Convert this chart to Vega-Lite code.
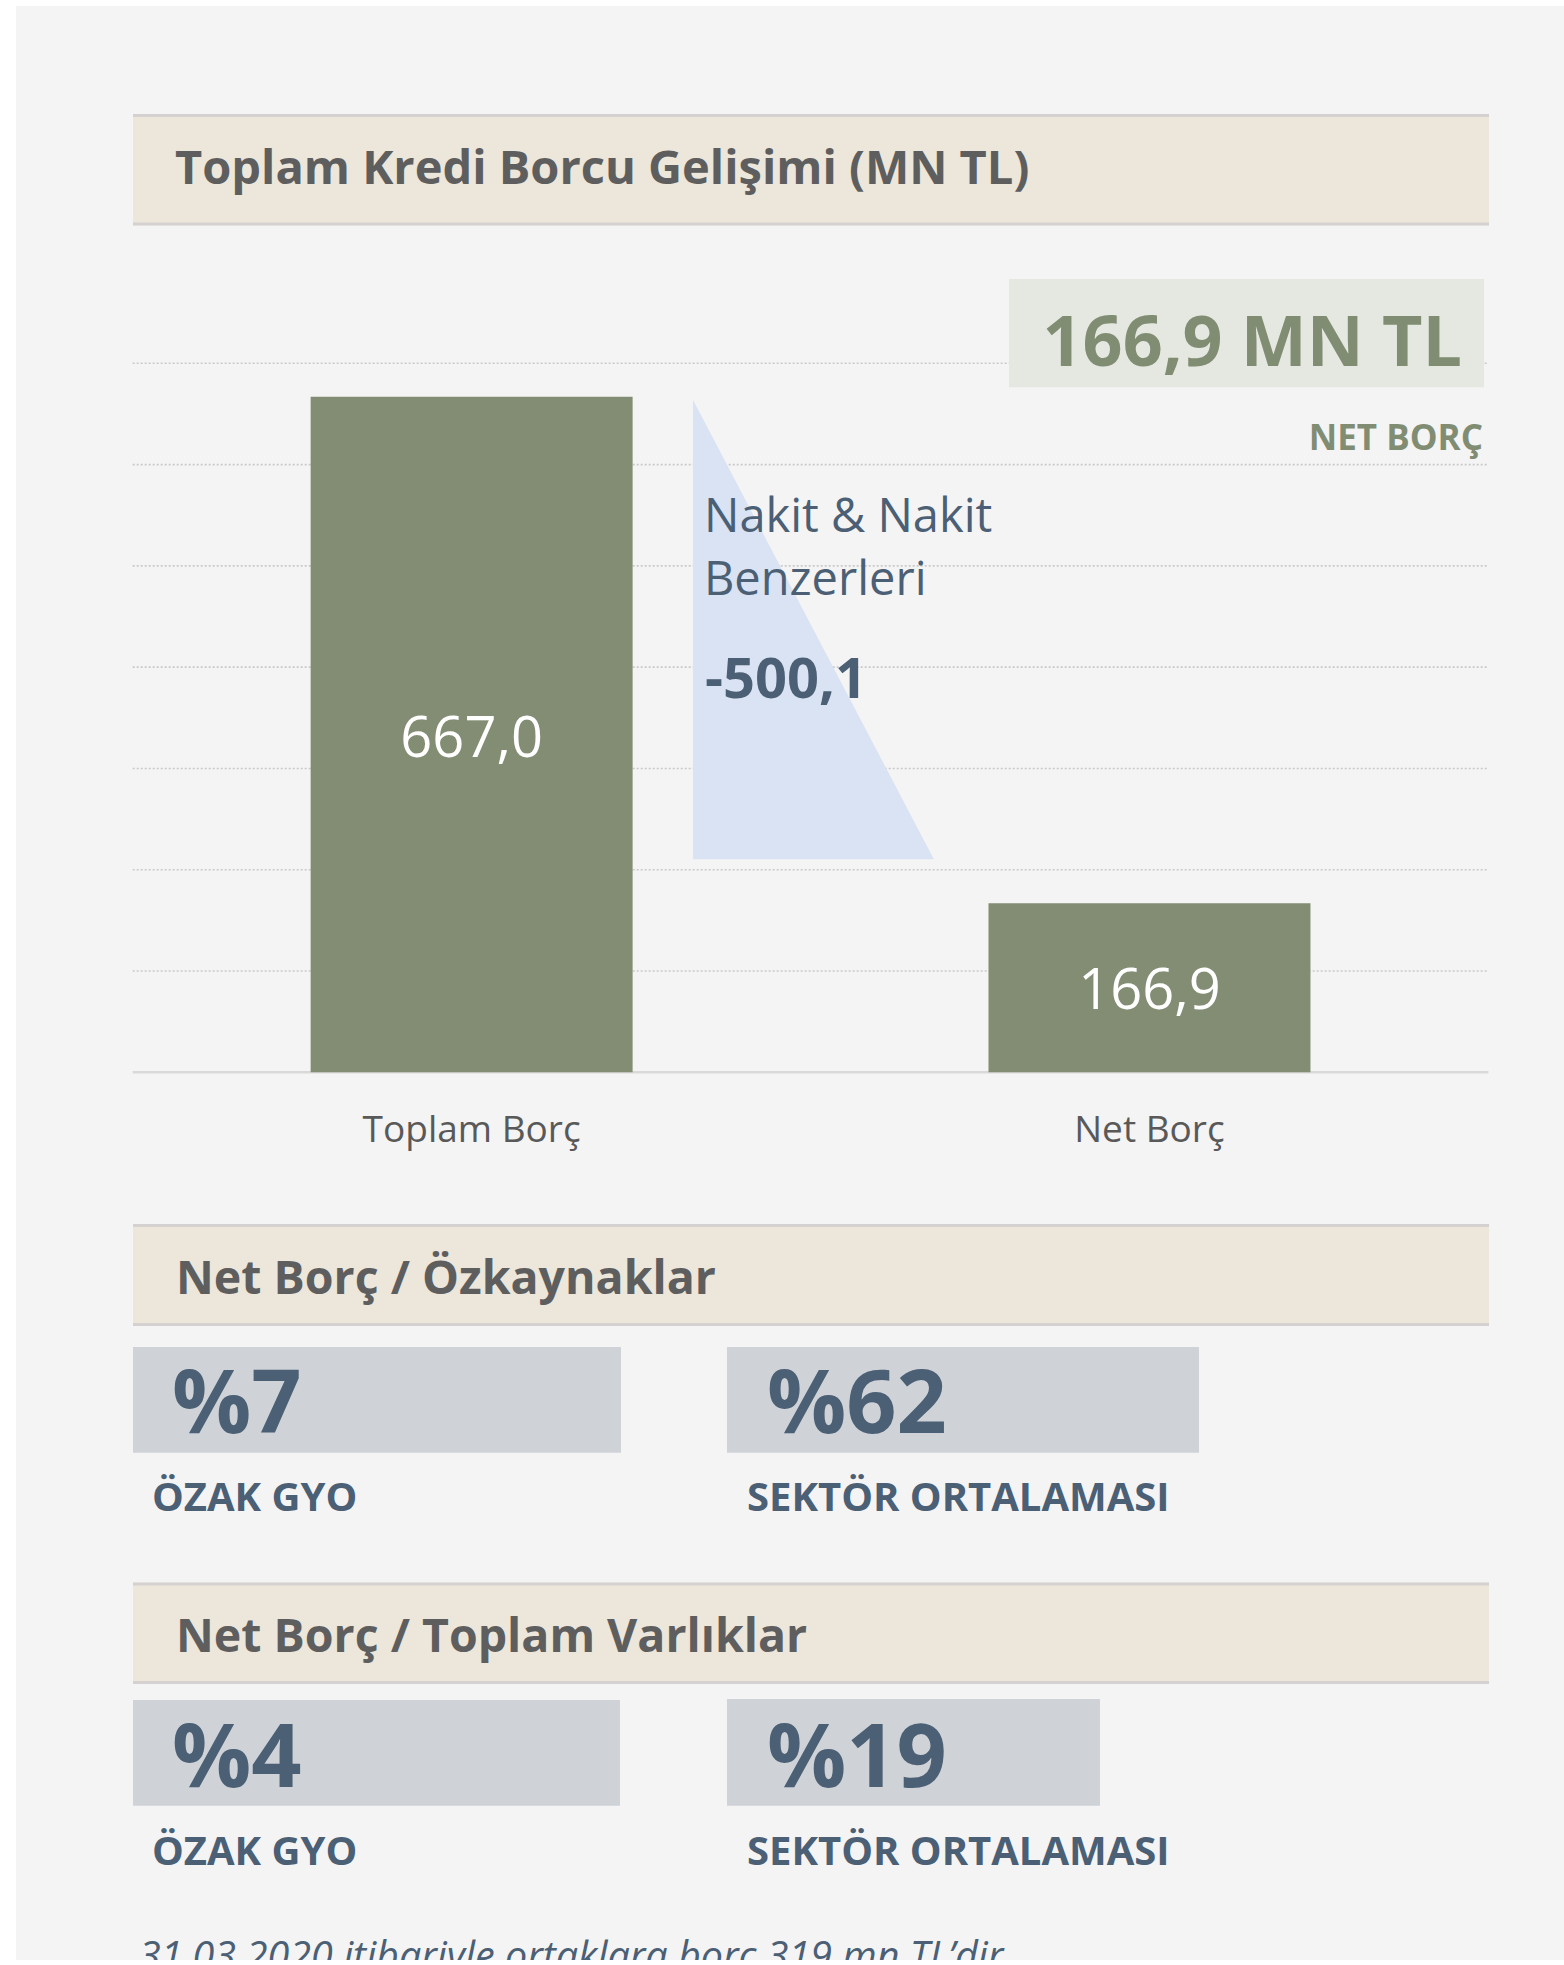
{
  "$schema": "https://vega.github.io/schema/vega-lite/v6.json",
  "width": 1564,
  "height": 1965,
  "autosize": {"type": "none"},
  "padding": 0,
  "background": "#ffffff",
  "config": {
    "view": {"stroke": null},
    "axis": {"disable": true},
    "font": "Open Sans",
    "locale": {"number": {"decimal": ",", "thousands": ".", "grouping": [3], "currency": ["", ""]}}
  },
  "datasets": {
    "borc": [
      {"kalem": "Toplam Borç", "deger": 667.0},
      {"kalem": "Net Borç", "deger": 166.9}
    ],
    "nakit": [
      {"adim": 1.653, "ust": 664, "alt": 210.3},
      {"adim": 2.364, "ust": 210.3, "alt": 210.3}
    ],
    "izgara": [
      {"deger": 100}, {"deger": 200}, {"deger": 300}, {"deger": 400},
      {"deger": 500}, {"deger": 600}, {"deger": 700}
    ],
    "oranlar": [
      {"oran": "Net Borç / Özkaynaklar", "taraf": "ÖZAK GYO", "deger": 7, "etiket": "%7"},
      {"oran": "Net Borç / Özkaynaklar", "taraf": "SEKTÖR ORTALAMASI", "deger": 62, "etiket": "%62"},
      {"oran": "Net Borç / Toplam Varlıklar", "taraf": "ÖZAK GYO", "deger": 4, "etiket": "%4"},
      {"oran": "Net Borç / Toplam Varlıklar", "taraf": "SEKTÖR ORTALAMASI", "deger": 19, "etiket": "%19"}
    ]
  },
  "layer": [
    {
      "data": {"values": [{}]},
      "layer": [
        {"mark": {"type": "rect", "fill": "#f4f4f4"}, "encoding": {"x": {"datum": 16, "type": "quantitative", "scale": {"domain": [0, 1564], "range": [0, 1564], "nice": false, "zero": false}}, "x2": {"datum": 1564}, "y": {"datum": 6, "type": "quantitative", "scale": {"domain": [0, 1965], "range": [0, 1965], "nice": false, "zero": false}}, "y2": {"datum": 1960}}},
        {"mark": {"type": "rect", "fill": "#ece6db"}, "encoding": {"x": {"datum": 133, "type": "quantitative", "scale": {"domain": [0, 1564], "range": [0, 1564], "nice": false, "zero": false}}, "x2": {"datum": 1489}, "y": {"datum": 114, "type": "quantitative", "scale": {"domain": [0, 1965], "range": [0, 1965], "nice": false, "zero": false}}, "y2": {"datum": 225.5}}},
        {"mark": {"type": "rect", "fill": "#d6d1d1"}, "encoding": {"x": {"datum": 133, "type": "quantitative", "scale": {"domain": [0, 1564], "range": [0, 1564], "nice": false, "zero": false}}, "x2": {"datum": 1489}, "y": {"datum": 114, "type": "quantitative", "scale": {"domain": [0, 1965], "range": [0, 1965], "nice": false, "zero": false}}, "y2": {"datum": 117}}},
        {"mark": {"type": "rect", "fill": "#d6d1d1"}, "encoding": {"x": {"datum": 133, "type": "quantitative", "scale": {"domain": [0, 1564], "range": [0, 1564], "nice": false, "zero": false}}, "x2": {"datum": 1489}, "y": {"datum": 222.5, "type": "quantitative", "scale": {"domain": [0, 1965], "range": [0, 1965], "nice": false, "zero": false}}, "y2": {"datum": 225.5}}},
        {"mark": {"type": "rect", "fill": "#ece6db"}, "encoding": {"x": {"datum": 133, "type": "quantitative", "scale": {"domain": [0, 1564], "range": [0, 1564], "nice": false, "zero": false}}, "x2": {"datum": 1489}, "y": {"datum": 1224, "type": "quantitative", "scale": {"domain": [0, 1965], "range": [0, 1965], "nice": false, "zero": false}}, "y2": {"datum": 1326}}},
        {"mark": {"type": "rect", "fill": "#d6d1d1"}, "encoding": {"x": {"datum": 133, "type": "quantitative", "scale": {"domain": [0, 1564], "range": [0, 1564], "nice": false, "zero": false}}, "x2": {"datum": 1489}, "y": {"datum": 1224, "type": "quantitative", "scale": {"domain": [0, 1965], "range": [0, 1965], "nice": false, "zero": false}}, "y2": {"datum": 1227}}},
        {"mark": {"type": "rect", "fill": "#d6d1d1"}, "encoding": {"x": {"datum": 133, "type": "quantitative", "scale": {"domain": [0, 1564], "range": [0, 1564], "nice": false, "zero": false}}, "x2": {"datum": 1489}, "y": {"datum": 1323, "type": "quantitative", "scale": {"domain": [0, 1965], "range": [0, 1965], "nice": false, "zero": false}}, "y2": {"datum": 1326}}},
        {"mark": {"type": "rect", "fill": "#ece6db"}, "encoding": {"x": {"datum": 133, "type": "quantitative", "scale": {"domain": [0, 1564], "range": [0, 1564], "nice": false, "zero": false}}, "x2": {"datum": 1489}, "y": {"datum": 1582.5, "type": "quantitative", "scale": {"domain": [0, 1965], "range": [0, 1965], "nice": false, "zero": false}}, "y2": {"datum": 1684}}},
        {"mark": {"type": "rect", "fill": "#d6d1d1"}, "encoding": {"x": {"datum": 133, "type": "quantitative", "scale": {"domain": [0, 1564], "range": [0, 1564], "nice": false, "zero": false}}, "x2": {"datum": 1489}, "y": {"datum": 1582.5, "type": "quantitative", "scale": {"domain": [0, 1965], "range": [0, 1965], "nice": false, "zero": false}}, "y2": {"datum": 1585.5}}},
        {"mark": {"type": "rect", "fill": "#d6d1d1"}, "encoding": {"x": {"datum": 133, "type": "quantitative", "scale": {"domain": [0, 1564], "range": [0, 1564], "nice": false, "zero": false}}, "x2": {"datum": 1489}, "y": {"datum": 1681, "type": "quantitative", "scale": {"domain": [0, 1965], "range": [0, 1965], "nice": false, "zero": false}}, "y2": {"datum": 1684}}},
        {"mark": {"type": "rect", "fill": "#cfd3d8"}, "encoding": {"x": {"datum": 133, "type": "quantitative", "scale": {"domain": [0, 1564], "range": [0, 1564], "nice": false, "zero": false}}, "x2": {"datum": 621}, "y": {"datum": 1347, "type": "quantitative", "scale": {"domain": [0, 1965], "range": [0, 1965], "nice": false, "zero": false}}, "y2": {"datum": 1452.7}}},
        {"mark": {"type": "rect", "fill": "#cfd3d8"}, "encoding": {"x": {"datum": 727, "type": "quantitative", "scale": {"domain": [0, 1564], "range": [0, 1564], "nice": false, "zero": false}}, "x2": {"datum": 1199}, "y": {"datum": 1347, "type": "quantitative", "scale": {"domain": [0, 1965], "range": [0, 1965], "nice": false, "zero": false}}, "y2": {"datum": 1452.7}}},
        {"mark": {"type": "rect", "fill": "#cfd3d8"}, "encoding": {"x": {"datum": 133, "type": "quantitative", "scale": {"domain": [0, 1564], "range": [0, 1564], "nice": false, "zero": false}}, "x2": {"datum": 620}, "y": {"datum": 1700, "type": "quantitative", "scale": {"domain": [0, 1965], "range": [0, 1965], "nice": false, "zero": false}}, "y2": {"datum": 1805.7}}},
        {"mark": {"type": "rect", "fill": "#cfd3d8"}, "encoding": {"x": {"datum": 727, "type": "quantitative", "scale": {"domain": [0, 1564], "range": [0, 1564], "nice": false, "zero": false}}, "x2": {"datum": 1100}, "y": {"datum": 1699, "type": "quantitative", "scale": {"domain": [0, 1965], "range": [0, 1965], "nice": false, "zero": false}}, "y2": {"datum": 1805.7}}}
      ]
    },
    {
      "layer": [
        {
          "data": {"name": "izgara"},
          "mark": {"type": "rule", "stroke": "#c9c9c9", "strokeWidth": 1.6, "strokeDash": [2, 2]},
          "encoding": {
            "x": {"datum": 0, "type": "quantitative", "scale": {"domain": [0, 4], "range": [132.7, 1488.4], "nice": false, "zero": false}},
            "x2": {"datum": 4},
            "y": {"field": "deger", "type": "quantitative", "scale": {"domain": [0, 700], "range": [1072.3, 363.3], "nice": false, "zero": false}}
          }
        },
        {
          "data": {"values": [{}]},
          "mark": {"type": "rule", "stroke": "#d9d9d9", "strokeWidth": 2.5},
          "encoding": {
            "x": {"datum": 0, "type": "quantitative", "scale": {"domain": [0, 4], "range": [132.7, 1488.4], "nice": false, "zero": false}},
            "x2": {"datum": 4},
            "y": {"datum": 0, "type": "quantitative", "scale": {"domain": [0, 700], "range": [1072.3, 363.3], "nice": false, "zero": false}}
          }
        },
        {
          "data": {"name": "nakit"},
          "mark": {"type": "area", "fill": "#dae3f3", "opacity": 1},
          "encoding": {
            "x": {"field": "adim", "type": "quantitative", "scale": {"domain": [0, 4], "range": [132.7, 1488.4], "nice": false, "zero": false}},
            "y": {"field": "ust", "type": "quantitative", "scale": {"domain": [0, 700], "range": [1072.3, 363.3], "nice": false, "zero": false}},
            "y2": {"field": "alt"}
          }
        }
      ]
    },
    {
      "data": {"values": [{}]},
      "mark": {"type": "rect", "fill": "#e5e7e1"},
      "encoding": {"x": {"datum": 1009, "type": "quantitative", "scale": {"domain": [0, 1564], "range": [0, 1564], "nice": false, "zero": false}}, "x2": {"datum": 1484}, "y": {"datum": 279, "type": "quantitative", "scale": {"domain": [0, 1965], "range": [0, 1965], "nice": false, "zero": false}}, "y2": {"datum": 387.3}}
    },
    {
      "data": {"name": "borc"},
      "encoding": {
        "x": {"field": "kalem", "type": "nominal", "sort": null, "scale": {"type": "band", "domain": ["Toplam Borç", "Net Borç"], "range": [132.7, 1488.4], "paddingInner": 0.525, "paddingOuter": 0.2625}}
      },
      "layer": [
        {
          "mark": {"type": "bar", "fill": "#828d74"},
          "encoding": {"y": {"field": "deger", "type": "quantitative", "scale": {"domain": [0, 700], "range": [1072.3, 363.3], "nice": false, "zero": true}}}
        },
        {
          "transform": [{"filter": "datum.kalem === 'Toplam Borç'"}],
          "mark": {"type": "text", "fill": "#ffffff", "fontSize": 56, "font": "Open Sans", "align": "center", "baseline": "alphabetic", "dy": 360},
          "encoding": {
            "y": {"field": "deger", "type": "quantitative", "scale": {"domain": [0, 700], "range": [1072.3, 363.3], "nice": false, "zero": true}},
            "text": {"field": "deger", "type": "quantitative", "format": ".1f"}
          }
        },
        {
          "transform": [{"filter": "datum.kalem === 'Net Borç'"}],
          "mark": {"type": "text", "fill": "#ffffff", "fontSize": 56, "font": "Open Sans", "align": "center", "baseline": "alphabetic", "dy": 106},
          "encoding": {
            "y": {"field": "deger", "type": "quantitative", "scale": {"domain": [0, 700], "range": [1072.3, 363.3], "nice": false, "zero": true}},
            "text": {"field": "deger", "type": "quantitative", "format": ".1f"}
          }
        },
        {
          "mark": {"type": "text", "fill": "#595959", "fontSize": 37, "font": "Open Sans", "align": "center", "baseline": "alphabetic", "dy": 69.4},
          "encoding": {
            "y": {"datum": 0, "type": "quantitative", "scale": {"domain": [0, 700], "range": [1072.3, 363.3], "nice": false, "zero": true}},
            "text": {"field": "kalem", "type": "nominal"}
          }
        }
      ]
    },
    {
      "data": {"name": "oranlar"},
      "encoding": {
        "x": {"field": "taraf", "type": "nominal", "sort": null, "scale": {"type": "point", "domain": ["ÖZAK GYO", "SEKTÖR ORTALAMASI"], "range": [172, 767], "padding": 0}},
        "y": {"field": "oran", "type": "nominal", "sort": null, "scale": {"type": "point", "domain": ["Net Borç / Özkaynaklar", "Net Borç / Toplam Varlıklar"], "range": [1433, 1787.3], "padding": 0}}
      },
      "layer": [
        {
          "mark": {"type": "text", "fill": "#4b5f75", "fontSize": 88, "fontWeight": "bold", "font": "Open Sans", "align": "left", "baseline": "alphabetic"},
          "encoding": {"text": {"field": "etiket", "type": "nominal"}}
        },
        {
          "mark": {"type": "text", "fill": "#4b5f75", "fontSize": 40, "fontWeight": "bold", "font": "Open Sans", "align": "left", "baseline": "alphabetic", "dx": -20, "dy": 78},
          "encoding": {"text": {"field": "taraf", "type": "nominal"}}
        }
      ]
    },
    {
      "data": {"values": [{}]},
      "layer": [
        {"mark": {"type": "text", "text": "Toplam Kredi Borcu Gelişimi (MN TL)", "fill": "#5e5e5e", "fontSize": 47, "fontWeight": "bold", "font": "Open Sans", "align": "left", "baseline": "alphabetic"}, "encoding": {"x": {"datum": 175, "type": "quantitative", "scale": {"domain": [0, 1564], "range": [0, 1564], "nice": false, "zero": false}}, "y": {"datum": 184.3, "type": "quantitative", "scale": {"domain": [0, 1965], "range": [0, 1965], "nice": false, "zero": false}}}},
        {"mark": {"type": "text", "text": "Net Borç / Özkaynaklar", "fill": "#5e5e5e", "fontSize": 46.5, "fontWeight": "bold", "font": "Open Sans", "align": "left", "baseline": "alphabetic"}, "encoding": {"x": {"datum": 176, "type": "quantitative", "scale": {"domain": [0, 1564], "range": [0, 1564], "nice": false, "zero": false}}, "y": {"datum": 1294.3, "type": "quantitative", "scale": {"domain": [0, 1965], "range": [0, 1965], "nice": false, "zero": false}}}},
        {"mark": {"type": "text", "text": "Net Borç / Toplam Varlıklar", "fill": "#5e5e5e", "fontSize": 46.5, "fontWeight": "bold", "font": "Open Sans", "align": "left", "baseline": "alphabetic"}, "encoding": {"x": {"datum": 176, "type": "quantitative", "scale": {"domain": [0, 1564], "range": [0, 1564], "nice": false, "zero": false}}, "y": {"datum": 1651.7, "type": "quantitative", "scale": {"domain": [0, 1965], "range": [0, 1965], "nice": false, "zero": false}}}},
        {"mark": {"type": "text", "text": "166,9 MN TL", "fill": "#818d72", "fontSize": 70, "fontWeight": "bold", "font": "Open Sans", "align": "right", "baseline": "alphabetic"}, "encoding": {"x": {"datum": 1462, "type": "quantitative", "scale": {"domain": [0, 1564], "range": [0, 1564], "nice": false, "zero": false}}, "y": {"datum": 365.7, "type": "quantitative", "scale": {"domain": [0, 1965], "range": [0, 1965], "nice": false, "zero": false}}}},
        {"mark": {"type": "text", "text": "NET BORÇ", "fill": "#818d72", "fontSize": 35, "fontWeight": "bold", "font": "Open Sans", "align": "right", "baseline": "alphabetic"}, "encoding": {"x": {"datum": 1483, "type": "quantitative", "scale": {"domain": [0, 1564], "range": [0, 1564], "nice": false, "zero": false}}, "y": {"datum": 450, "type": "quantitative", "scale": {"domain": [0, 1965], "range": [0, 1965], "nice": false, "zero": false}}}},
        {"mark": {"type": "text", "text": "Nakit & Nakit", "fill": "#4b5f75", "fontSize": 47, "font": "Open Sans", "align": "left", "baseline": "alphabetic"}, "encoding": {"x": {"datum": 704, "type": "quantitative", "scale": {"domain": [0, 1564], "range": [0, 1564], "nice": false, "zero": false}}, "y": {"datum": 531.7, "type": "quantitative", "scale": {"domain": [0, 1965], "range": [0, 1965], "nice": false, "zero": false}}}},
        {"mark": {"type": "text", "text": "Benzerleri", "fill": "#4b5f75", "fontSize": 47, "font": "Open Sans", "align": "left", "baseline": "alphabetic"}, "encoding": {"x": {"datum": 704, "type": "quantitative", "scale": {"domain": [0, 1564], "range": [0, 1564], "nice": false, "zero": false}}, "y": {"datum": 595, "type": "quantitative", "scale": {"domain": [0, 1965], "range": [0, 1965], "nice": false, "zero": false}}}},
        {"mark": {"type": "text", "text": "-500,1", "fill": "#4b5f75", "fontSize": 56, "fontWeight": "bold", "font": "Open Sans", "align": "left", "baseline": "alphabetic"}, "encoding": {"x": {"datum": 705, "type": "quantitative", "scale": {"domain": [0, 1564], "range": [0, 1564], "nice": false, "zero": false}}, "y": {"datum": 698.3, "type": "quantitative", "scale": {"domain": [0, 1965], "range": [0, 1965], "nice": false, "zero": false}}}},
        {"mark": {"type": "text", "text": "31.03.2020 itibariyle ortaklara borç 319 mn TL’dir.", "fill": "#4b5f75", "fontSize": 39.5, "fontStyle": "italic", "font": "Open Sans", "align": "left", "baseline": "alphabetic"}, "encoding": {"x": {"datum": 139, "type": "quantitative", "scale": {"domain": [0, 1564], "range": [0, 1564], "nice": false, "zero": false}}, "y": {"datum": 1969.5, "type": "quantitative", "scale": {"domain": [0, 1965], "range": [0, 1965], "nice": false, "zero": false}}}},
        {"mark": {"type": "rect", "fill": "#ffffff"}, "encoding": {"x": {"datum": 0, "type": "quantitative", "scale": {"domain": [0, 1564], "range": [0, 1564], "nice": false, "zero": false}}, "x2": {"datum": 1564}, "y": {"datum": 1960, "type": "quantitative", "scale": {"domain": [0, 1965], "range": [0, 1965], "nice": false, "zero": false}}, "y2": {"datum": 1965}}}
      ]
    }
  ],
  "resolve": {"scale": {"x": "independent", "y": "independent"}}
}
